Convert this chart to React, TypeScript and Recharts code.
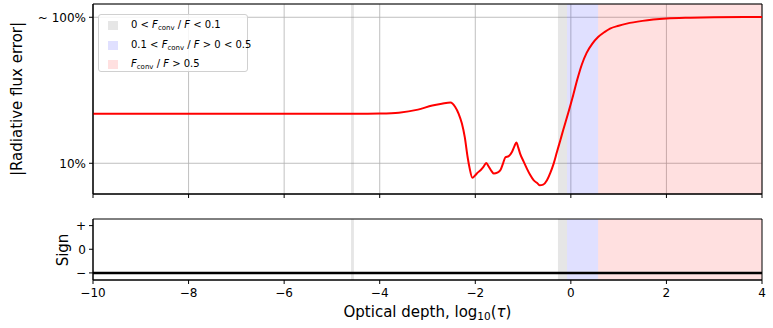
import React from 'react';
import {
  LineChart,
  Line,
  XAxis,
  YAxis,
  CartesianGrid,
  ReferenceArea,
} from 'recharts';

// log10(tau) sample points and |radiative flux error| in percent
const LOG_TAU = [
  -10, -8, -6, -5, -4.5, -4.0, -3.6, -3.2, -2.9, -2.7, -2.52, -2.42, -2.35, -2.28,
  -2.22, -2.16, -2.12, -2.06, -2.0, -1.95, -1.89, -1.83, -1.77, -1.72, -1.66,
  -1.61, -1.54, -1.47, -1.42, -1.37, -1.3, -1.23, -1.18, -1.14, -1.1, -1.06,
  -0.99, -0.92, -0.85, -0.78, -0.7, -0.65, -0.58, -0.5, -0.43, -0.36, -0.29,
  -0.22, -0.16, -0.1, 0.05, 0.13, 0.23, 0.33, 0.45, 0.57, 0.7, 0.82, 1.0, 1.17,
  1.5, 2.0, 2.5, 3.0, 4.0,
];
const FLUX_ERROR = [
  21.8, 21.8, 21.8, 21.8, 21.8, 21.9, 22.2, 23.3, 24.9, 25.6, 26.1, 24.3, 21.9, 18.7,
  15.1, 11.0, 9.3, 7.95, 8.28, 8.63, 8.96, 9.45, 10.05, 9.5, 8.85,
  8.5, 8.63, 9.03, 9.95, 11.0, 11.2, 12.0, 13.1, 13.9, 12.8, 11.6,
  10.3, 9.2, 8.3, 7.66, 7.3, 7.07, 7.14, 7.66, 8.6, 9.95, 12.0,
  14.4, 16.9, 19.7, 29.4, 37.0, 47.5, 57.0, 66.0, 73.3, 79.0, 83.7, 87.5, 90.5,
  94.5, 98.0, 99.3, 100.0, 100.5,
];

// sign of the error
const SIGN_X = [-10, 4];
const SIGN_VALUES = [-1, -1];

// F_conv / F regions (log10 tau ranges)
const BAND_LOW = [[-4.6, -4.54], [-0.27, -0.08]];
const BAND_MID = [[-0.08, 0.57]];
const BAND_HIGH = [[0.57, 4]];

const X_TICKS = [-10, -8, -6, -4, -2, 0, 2, 4];
const ERR_TICKS = [10, 100];
const SIGN_TICKS = [-1, 0, 1];
const ERR_DOMAIN = [6.16, 123.3];
const SIGN_DOMAIN = [-1.3, 1.28];

const errData = LOG_TAU.map((x, i) => ({ x, err: FLUX_ERROR[i] }));
const signData = SIGN_X.map((x, i) => ({ x, s: SIGN_VALUES[i] }));

const minus = (v: number) => (v < 0 ? '\u2212' + Math.abs(v) : String(v));
const tickStyle = { fill: '#000', fontSize: 12 };

function bands() {
  return [
    ...BAND_LOW.map(([a, b], i) => (
      <ReferenceArea key={'g' + i} x1={a} x2={b} fill="#808080" fillOpacity={0.2} stroke="none" ifOverflow="hidden" />
    )),
    ...BAND_MID.map(([a, b], i) => (
      <ReferenceArea key={'b' + i} x1={a} x2={b} fill="#0000ff" fillOpacity={0.12} stroke="none" ifOverflow="hidden" />
    )),
    ...BAND_HIGH.map(([a, b], i) => (
      <ReferenceArea key={'r' + i} x1={a} x2={b} fill="#ff0000" fillOpacity={0.12} stroke="none" ifOverflow="hidden" />
    )),
  ];
}

function LegendBox() {
  const row = (color: string, content: React.ReactNode, top: number) => (
    <div style={{ position: 'absolute', left: 9, top, display: 'flex', alignItems: 'center', height: 12 }}>
      <span style={{ width: 10, height: 9, background: color, display: 'inline-block' }} />
      <span style={{ marginLeft: 13, fontSize: 10, whiteSpace: 'nowrap' }}>{content}</span>
    </div>
  );
  const F = (
    <>
      <i>F</i>
      <sub style={{ fontSize: 7, verticalAlign: -2 }}>conv</sub> / <i>F</i>
    </>
  );
  return (
    <div
      style={{
        position: 'absolute',
        left: 98,
        top: 14,
        width: 150,
        height: 58,
        background: 'rgba(255,255,255,0.85)',
        border: '1px solid #d0d0d0',
        borderRadius: 3,
        boxSizing: 'border-box',
      }}
    >
      {row('#e6e6e6', <>0 &lt; {F} &lt; 0.1</>, 4)}
      {row('#e0e0ff', <>0.1 &lt; {F} &gt; 0 &lt; 0.5</>, 24)}
      {row('#ffe0e0', <>{F} &gt; 0.5</>, 43)}
    </div>
  );
}

export default function App() {
  return (
    <div
      style={{
        position: 'absolute',
        left: 0,
        top: 0,
        width: 773,
        height: 328,
        background: '#fff',
        fontFamily: 'DejaVu Sans',
      }}
    >
      <div style={{ position: 'absolute', left: 0, top: 0 }}>
        <LineChart width={773} height={200} data={errData} margin={{ top: 4, right: 11, bottom: 0, left: 0 }}>
          {bands()}
          <CartesianGrid stroke="#b0b0b0" strokeWidth={0.8} />
          <XAxis
            type="number"
            dataKey="x"
            domain={[-10, 4]}
            ticks={X_TICKS}
            allowDataOverflow
            height={6}
            tickSize={4}
            stroke="#000"
            tickFormatter={() => ''}
          />
          <YAxis
            scale="log"
            domain={ERR_DOMAIN}
            ticks={ERR_TICKS}
            allowDataOverflow
            width={93}
            tickSize={4}
            tickMargin={3}
            stroke="#000"
            tick={tickStyle}
            tickFormatter={(v: number) => (v === 100 ? '~ 100%' : v + '%')}
            label={() => (
              <text x={22} y={99} transform="rotate(-90 22 99)" textAnchor="middle" fontSize={15} fill="#000">
                |Radiative flux error|
              </text>
            )}
          />
          <ReferenceArea x1={-10} x2={4} y1={ERR_DOMAIN[0]} y2={ERR_DOMAIN[1]} fill="none" stroke="#000" strokeWidth={1} />
          <Line
            dataKey="err"
            type="monotone"
            stroke="#ff0000"
            strokeWidth={2}
            dot={false}
            isAnimationActive={false}
          />
        </LineChart>
        <LegendBox />
      </div>
      <div style={{ position: 'absolute', left: 0, top: 200 }}>
        <LineChart width={773} height={128} data={signData} margin={{ top: 19, right: 11, bottom: 0, left: 0 }}>
          {bands()}
          <XAxis
            type="number"
            dataKey="x"
            domain={[-10, 4]}
            ticks={X_TICKS}
            allowDataOverflow
            height={48}
            tickSize={4}
            tickMargin={4}
            stroke="#000"
            tick={tickStyle}
            tickFormatter={minus}
            label={() => (
              <text x={427.5} y={117} textAnchor="middle" fontSize={15} fill="#000">
                Optical depth, log
                <tspan fontSize={10.5} dy={3}>10</tspan>
                <tspan dy={-3}>(</tspan>
                <tspan fontStyle="italic">τ</tspan>)
              </text>
            )}
          />
          <YAxis
            type="number"
            domain={SIGN_DOMAIN}
            ticks={SIGN_TICKS}
            allowDataOverflow
            width={93}
            tickSize={4}
            tickMargin={3}
            stroke="#000"
            tick={tickStyle}
            tickFormatter={(v: number) => (v > 0 ? '+' : v < 0 ? '\u2212' : '0')}
            label={() => (
              <text x={68} y={50} transform="rotate(-90 68 50)" textAnchor="middle" fontSize={15} fill="#000">
                Sign
              </text>
            )}
          />
          <ReferenceArea x1={-10} x2={4} y1={SIGN_DOMAIN[0]} y2={SIGN_DOMAIN[1]} fill="none" stroke="#000" strokeWidth={1} />
          <Line
            dataKey="s"
            type="linear"
            stroke="#000"
            strokeWidth={2.5}
            dot={false}
            isAnimationActive={false}
          />
        </LineChart>
      </div>
    </div>
  );
}
